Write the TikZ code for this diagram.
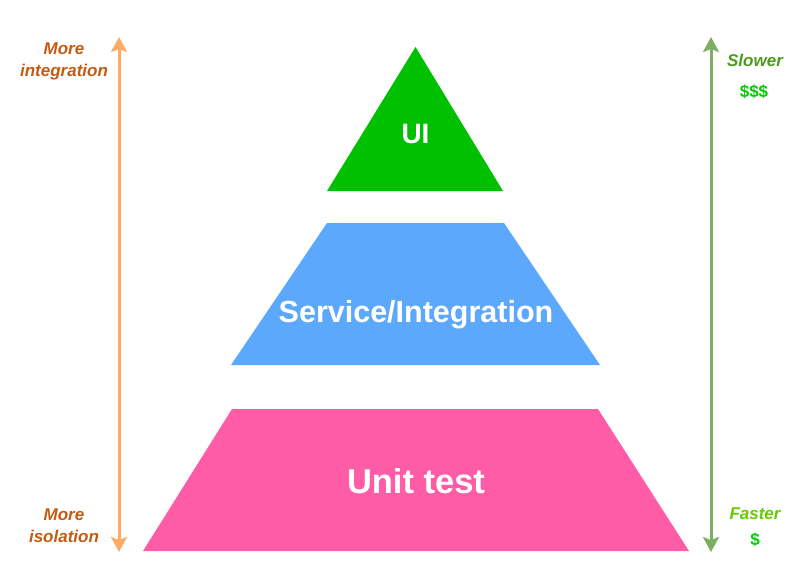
\documentclass[tikz,border=0pt]{standalone}
\usepackage{fontspec}
\setmainfont{Liberation Sans}
\usetikzlibrary{arrows.meta}
\definecolor{uigreen}{HTML}{00C000}
\definecolor{svcblue}{HTML}{5CA8FC}
\definecolor{unitpink}{HTML}{FF5CA8}
\definecolor{arrorange}{HTML}{FFAA66}
\definecolor{txtorange}{HTML}{C55A11}
\definecolor{arrgreen}{HTML}{7EAE64}
\definecolor{slowgreen}{HTML}{4E9A1A}
\definecolor{fastgreen}{HTML}{66CC00}
\definecolor{dollargreen}{HTML}{00CC00}
\tikzset{
  layer/.style={draw=none},
  layertext/.style={text=white, font=\bfseries},
  sidelabel/.style={font=\fontsize{17}{22}\selectfont\bfseries\itshape, align=center},
  scalearrow/.style={line width=3pt, -{Stealth[width=16pt,length=15pt,inset=3pt]}},
}
\begin{document}
\begin{tikzpicture}[x=1pt,y=-1pt]
\useasboundingbox (0,0) rectangle (799,568);
% pyramid layers
\fill[uigreen] (415.5,47) -- (503,191) -- (327,191) -- cycle;
\fill[svcblue] (327,223) -- (504,223) -- (600,365) -- (231,365) -- cycle;
\fill[unitpink] (232,409) -- (598,409) -- (689,551) -- (143,551) -- cycle;
% layer labels
\node[layertext, font=\fontsize{28}{32}\selectfont\bfseries] (ui) at (415.5,134) {UI};
\node[layertext, font=\fontsize{30.5}{34}\selectfont\bfseries] (svc) at (416,315) {Service/Integration};
\node[layertext, font=\fontsize{34.5}{38}\selectfont\bfseries] (unit) at (416,481) {Unit test};
% left scale
\coordinate (ltop) at (119,37);
\coordinate (lbot) at (119,552);
\coordinate (lmid) at (119,300);
\draw[scalearrow, arrorange] (lmid) -- (ltop);
\draw[scalearrow, arrorange] (lmid) -- (lbot);
\node[sidelabel, text=txtorange] (integ) at (64,61.5) {More\\integration};
\node[sidelabel, text=txtorange] (isol) at (64,526) {More\\isolation};
% right scale
\coordinate (rtop) at (711,37);
\coordinate (rbot) at (711,552);
\coordinate (rmid) at (711,300);
\draw[scalearrow, arrgreen] (rmid) -- (rtop);
\draw[scalearrow, arrgreen] (rmid) -- (rbot);
\node[sidelabel, text=slowgreen] (slow) at (755,60) {Slower};
\node[font=\fontsize{17}{20}\selectfont\bfseries, text=dollargreen] (dollars) at (754,92) {\$\$\$};
\node[sidelabel, text=fastgreen] (fast) at (755,514) {Faster};
\node[font=\fontsize{17}{20}\selectfont\bfseries, text=dollargreen] (dollar) at (755,540) {\$};
\end{tikzpicture}
\end{document}
